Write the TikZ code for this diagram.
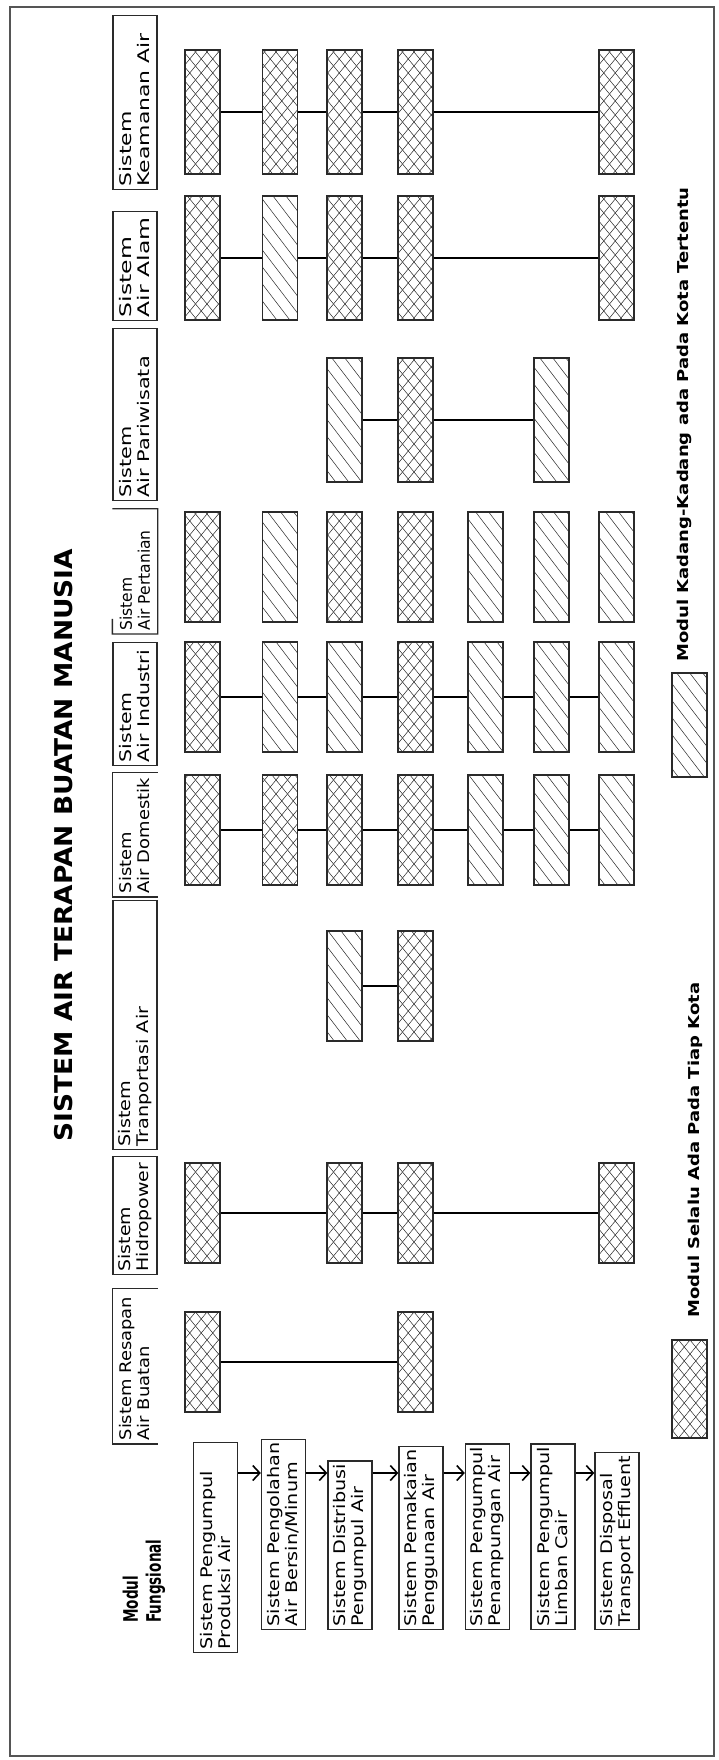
\documentclass[tikz,border=0pt]{standalone}
\usepackage{fontspec}
\setmainfont{DejaVu Sans}
\newfontfamily\boxfont[FakeStretch=1.2]{DejaVu Sans}
\newfontfamily\titlefont[FakeStretch=1.08]{DejaVu Sans}
\newfontfamily\modfont[FakeStretch=0.68]{DejaVu Sans}
\newcommand\hdfont[1]{\fontspec{DejaVu Sans}[FakeStretch=#1]\fontsize{16}{18}\selectfont}
\usepackage{tikz}
\usetikzlibrary{arrows.meta,patterns.meta,calc}
\definecolor{edge}{HTML}{2A2A2A}
\definecolor{frame}{HTML}{555555}

\tikzdeclarepattern{
  name=crossx, type=uncolored,
  bounding box={(-1pt,-1pt) and (12.5pt,15pt)},
  tile size={(11.5pt,14pt)},
  code={\draw[line width=0.5pt] (0,0) -- (11.5pt,14pt) (0,14pt) -- (11.5pt,0);}
}
\tikzdeclarepattern{
  name=slashx, type=uncolored,
  bounding box={(-1pt,-1pt) and (14pt,18pt)},
  tile size={(13pt,17pt)},
  code={\draw[line width=0.5pt] (0,17pt) -- (13pt,0);}
}

\begin{document}
\begin{tikzpicture}[x=1pt, y=-1pt,
  modbox/.style={rectangle, draw=edge, line width=1.3pt, minimum width=35pt,
                 minimum height=110pt, inner sep=0pt},
  always/.style={modbox, pattern=crossx, pattern color=black!85},
  sometimes/.style={modbox, pattern=slashx, pattern color=black!85},
  tall/.style={minimum height=124pt},
  short/.style={minimum height=100pt},
  fungsi/.style={rectangle, draw=edge, line width=1.3pt, rotate=90, anchor=west,
                 align=left, inner xsep=3pt, inner ysep=4pt, minimum height=44pt,
                 font=\boxfont\fontsize{16}{18}\selectfont},
  header/.style={fungsi, align=flush left, text width=#1},
  openhead/.style={header=#1, draw=none},
  keytext/.style={rotate=90, anchor=west, inner sep=0pt,
                  font=\boxfont\bfseries\fontsize{15}{17}\selectfont},
  link/.style={line width=2.2pt},
  flow/.style={line width=1.6pt, -{Straight Barb[length=7pt,width=15pt]}},
]
  \useasboundingbox (0,0) rectangle (719,1760);
  \draw[frame, line width=1.2pt] (10,7) rectangle (714,1756);

  % title and column headers
  \node[rotate=90, font=\titlefont\bfseries\fontsize{24.5}{28}\selectfont] (title) at (64,845) {SISTEM AIR TERAPAN BUATAN MANUSIA};
  \node[rotate=90, anchor=west, align=left, inner sep=0pt,
        font=\modfont\bfseries\fontsize{20}{23}\selectfont] (modul) at (144,1623) {Modul\\Fungsional};

  \node[openhead=148pt, font=\hdfont{1.12}] (hresapan) at (135,1444) {Sistem Resapan\\Air Buatan};
  \draw[edge, line width=1.3pt] (hresapan.south east) -- (hresapan.north east) -- (hresapan.north west) -- (hresapan.south west);
  \node[header=112pt, font=\hdfont{1.18}] (hhidro) at (135,1275) {Sistem\\Hidropower};
  \node[header=243pt, font=\hdfont{1.2}] (htrans) at (135,1150) {Sistem\\Tranportasi Air};
  \node[openhead=117pt, font=\hdfont{1.12}] (hdomestik) at (135,897) {Sistem\\Air Domestik};
  \draw[edge, line width=1.3pt] (hdomestik.south east) -- (hdomestik.north east) -- (hdomestik.north west) -- (hdomestik.south west);
  \node[header=117pt, font=\hdfont{1.28}] (hindustri) at (135,766) {Sistem\\Air Industri};
  \node[openhead=118pt, font=\hdfont{0.97}] (htani) at (135,634) {Sistem\\Air Pertanian};
  \draw[edge, line width=1.3pt] ($(htani.north west)!0.12!(htani.north east)$) -- (htani.north west) -- (htani.south west) -- (htani.south east) -- (htani.north east);
  \node[header=166pt, font=\hdfont{1.3}] (hwisata) at (135,501) {Sistem\\Air Pariwisata};
  \node[header=103pt, font=\hdfont{1.47}] (halam) at (135,321) {Sistem\\Air Alam};
  \node[header=168pt, font=\hdfont{1.37}] (haman) at (135,190) {Sistem\\Keamanan Air};

  % functional modules
  \node[fungsi, text width=204pt] (f1) at (215.5,1653) {Sistem Pengumpul\\Produksi Air};
  \node[fungsi] (f2) at (283.5,1630) {Sistem Pengolahan\\Air Bersin/Minum};
  \node[fungsi] (f3) at (350,1630) {Sistem Distribusi\\Pengumpul Air};
  \node[fungsi] (f4) at (421,1630) {Sistem Pemakaian\\Penggunaan Air};
  \node[fungsi] (f5) at (487.5,1630) {Sistem Pengumpul\\Penampungan Air};
  \node[fungsi] (f6) at (553,1630) {Sistem Pengumpul\\Limban Cair};
  \node[fungsi] (f7) at (617,1630) {Sistem Disposal\\Transport Effluent};
  \coordinate (flowrow) at (0,1473);
  \draw[flow] (f1.south |- flowrow) -- (f2.north |- flowrow);
  \draw[flow] (f2.south |- flowrow) -- (f3.north |- flowrow);
  \draw[flow] (f3.south |- flowrow) -- (f4.north |- flowrow);
  \draw[flow] (f4.south |- flowrow) -- (f5.north |- flowrow);
  \draw[flow] (f5.south |- flowrow) -- (f6.north |- flowrow);
  \draw[flow] (f6.south |- flowrow) -- (f7.north |- flowrow);

  % Resapan
  \node[always, short] (rs1) at (202.5,1362) {};
  \node[always, short] (rs4) at (415.5,1362) {};
  \draw[link] (rs1) -- (rs4);

  % Hidropower
  \node[always, short] (hp1) at (202.5,1213) {};
  \node[always, short] (hp3) at (344.5,1213) {};
  \node[always, short] (hp4) at (415.5,1213) {};
  \node[always, short] (hp7) at (616.5,1213) {};
  \draw[link] (hp1) -- (hp3);
  \draw[link] (hp3) -- (hp4);
  \draw[link] (hp4) -- (hp7);

  % Tranportasi
  \node[sometimes] (tr3) at (344.5,986) {};
  \node[always] (tr4) at (415.5,986) {};
  \draw[link] (tr3) -- (tr4);

  % Domestik
  \node[always] (dm1) at (202.5,830) {};
  \node[always] (dm2) at (280,830) {};
  \node[always] (dm3) at (344.5,830) {};
  \node[always] (dm4) at (415.5,830) {};
  \node[sometimes] (dm5) at (485.5,830) {};
  \node[sometimes] (dm6) at (551.5,830) {};
  \node[sometimes] (dm7) at (616.5,830) {};
  \draw[link] (dm1) -- (dm2);
  \draw[link] (dm2) -- (dm3);
  \draw[link] (dm3) -- (dm4);
  \draw[link] (dm4) -- (dm5);
  \draw[link] (dm5) -- (dm6);
  \draw[link] (dm6) -- (dm7);

  % Industri
  \node[always] (in1) at (202.5,697) {};
  \node[sometimes] (in2) at (280,697) {};
  \node[sometimes] (in3) at (344.5,697) {};
  \node[always] (in4) at (415.5,697) {};
  \node[sometimes] (in5) at (485.5,697) {};
  \node[sometimes] (in6) at (551.5,697) {};
  \node[sometimes] (in7) at (616.5,697) {};
  \draw[link] (in1) -- (in2);
  \draw[link] (in2) -- (in3);
  \draw[link] (in3) -- (in4);
  \draw[link] (in4) -- (in5);
  \draw[link] (in5) -- (in6);
  \draw[link] (in6) -- (in7);

  % Pertanian
  \node[always] (pt1) at (202.5,567) {};
  \node[sometimes] (pt2) at (280,567) {};
  \node[always] (pt3) at (344.5,567) {};
  \node[always] (pt4) at (415.5,567) {};
  \node[sometimes] (pt5) at (485.5,567) {};
  \node[sometimes] (pt6) at (551.5,567) {};
  \node[sometimes] (pt7) at (616.5,567) {};

  % Pariwisata
  \node[sometimes, tall] (pw3) at (344.5,420) {};
  \node[always, tall] (pw4) at (415.5,420) {};
  \node[sometimes, tall] (pw6) at (551.5,420) {};
  \draw[link] (pw3) -- (pw4);
  \draw[link] (pw4) -- (pw6);

  % Alam
  \node[always, tall] (al1) at (202.5,258) {};
  \node[sometimes, tall] (al2) at (280,258) {};
  \node[always, tall] (al3) at (344.5,258) {};
  \node[always, tall] (al4) at (415.5,258) {};
  \node[always, tall] (al7) at (616.5,258) {};
  \draw[link] (al1) -- (al2);
  \draw[link] (al2) -- (al3);
  \draw[link] (al3) -- (al4);
  \draw[link] (al4) -- (al7);

  % Keamanan
  \node[always, tall] (km1) at (202.5,112) {};
  \node[always, tall] (km2) at (280,112) {};
  \node[always, tall] (km3) at (344.5,112) {};
  \node[always, tall] (km4) at (415.5,112) {};
  \node[always, tall] (km7) at (616.5,112) {};
  \draw[link] (km1) -- (km2);
  \draw[link] (km2) -- (km3);
  \draw[link] (km3) -- (km4);
  \draw[link] (km4) -- (km7);

  % legend
  \node[always, minimum height=98pt] (keyalways) at (689.5,1389) {};
  \node[keytext] (keyalwaystext) at (695,1318) {Modul Selalu Ada Pada Tiap Kota};
  \node[sometimes, minimum height=104pt] (keysometimes) at (689.5,725) {};
  \node[keytext] (keysometimestext) at (684,662) {Modul Kadang-Kadang ada Pada Kota Tertentu};
\end{tikzpicture}
\end{document}
